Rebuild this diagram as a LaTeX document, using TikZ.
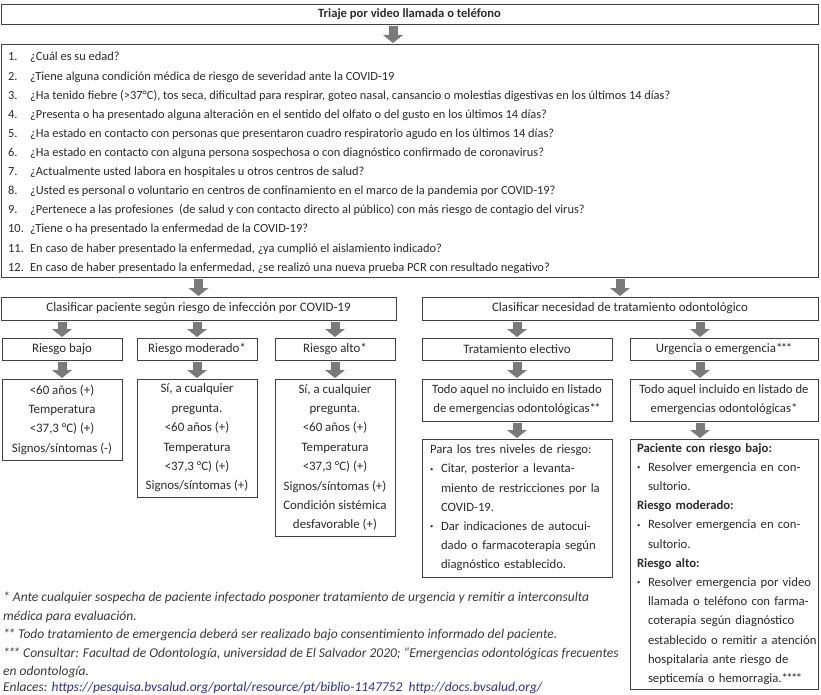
\documentclass[tikz,border=0pt]{standalone}
\usepackage{fontspec}
\setmainfont{Carlito}
\usetikzlibrary{arrows.meta,calc}
\definecolor{arrowgray}{HTML}{7A7A7A}
\definecolor{framegray}{HTML}{404040}
\definecolor{txt}{HTML}{2B2B2B}
\definecolor{notegray}{HTML}{3A3A3A}
\definecolor{linkblue}{HTML}{2E3192}
\newcommand{\fsQ}{\fontsize{12.4}{19.1}\selectfont}
\newcommand{\fsL}{\fontsize{12.9}{19.4}\selectfont}
\newcommand{\fsR}{\fontsize{12.7}{19.2}\selectfont}
\newcommand{\fsN}{\fontsize{13.5}{18.6}\selectfont}
\newcommand{\bul}{\makebox[11pt][l]{\raisebox{1.6pt}{\fontsize{6.5}{6.5}\selectfont •}}}
\newcommand{\ind}{\hspace*{11pt}}
\newcommand{\Lx}[1]{\mbox{#1}}
\newcommand{\twost}{*\kern-1.6pt*}
\newcommand{\threest}{*\kern-1.6pt*\kern-1.6pt*}
\newcommand{\fourst}{*\kern-1.6pt*\kern-1.6pt*\kern-1.6pt*}
\begin{document}
\begin{tikzpicture}[x=1pt,y=-1pt,
  box/.style={draw=framegray, line width=0.9pt, anchor=north west, inner sep=0pt, outer sep=0pt, text=txt, font=\fsL},
  flow/.style={draw=arrowgray, line width=9pt, -{Triangle[width=20pt,length=8pt,line width=0pt]}, shorten <=2pt, shorten >=1pt},
  qline/.style={anchor=base west, inner sep=0pt, text=txt, font=\fsQ},
  note/.style={anchor=base west, inner sep=0pt, text=notegray, font=\fsN\itshape}]
\useasboundingbox (0,0) rectangle (821,695);
\fill[white] (0,0) rectangle (821,695);

\node[box, minimum width=817pt, minimum height=20pt, font=\fontsize{12.6}{14}\selectfont\bfseries] (title) at (1,4) {Triaje por video llamada o teléfono};

\node[box, minimum width=817pt, minimum height=233pt] (qbox) at (1,44) {};
\foreach \t [count=\k] in {
  {¿Cuál es su edad?},
  {¿Tiene alguna condición médica de riesgo de severidad ante la COVID-19},
  {¿Ha tenido fiebre (>37°C), tos seca, dificultad para respirar, goteo nasal, cansancio o molestias digestivas en los últimos 14 días?},
  {¿Presenta o ha presentado alguna alteración en el sentido del olfato o del gusto en los últimos 14 días?},
  {¿Ha estado en contacto con personas que presentaron cuadro respiratorio agudo en los últimos 14 días?},
  {¿Ha estado en contacto con alguna persona sospechosa o con diagnóstico confirmado de coronavirus?},
  {¿Actualmente usted labora en hospitales u otros centros de salud?},
  {¿Usted es personal o voluntario en centros de confinamiento en el marco de la pandemia por COVID-19?},
  {¿Pertenece a las profesiones\ \ (de salud y con contacto directo al público) con más riesgo de contagio del virus?},
  {¿Tiene o ha presentado la enfermedad de la COVID-19?},
  {En caso de haber presentado la enfermedad, ¿ya cumplió el aislamiento indicado?},
  {En caso de haber presentado la enfermedad, ¿se realizó una nueva prueba PCR con resultado negativo?}}
  \node[qline] (q\k) at (8,{61+19.1*(\k-1)}) {\makebox[22pt][l]{\k.}\t};

% left branch
\node[box, minimum width=395pt, minimum height=23pt] (clL) at (1,297) {Clasificar paciente según riesgo de infección por COVID-19};
\node[box, minimum width=120pt, minimum height=22pt] (rb) at (2,338) {Riesgo bajo};
\node[box, minimum width=120pt, minimum height=22pt] (rm) at (137,338) {Riesgo moderado*};
\node[box, minimum width=120pt, minimum height=22pt] (ra) at (275,338) {Riesgo alto*};
\node[box, minimum width=120pt, minimum height=81pt, align=center] (cb) at (2,379) {<60 años (+)\\Temperatura\\<37,3 °C) (+)\\Signos/síntomas (-)};
\node[box, minimum width=120pt, minimum height=118pt, align=center] (cm) at (137,379) {Sí, a cualquier\\pregunta.\\<60 años (+)\\Temperatura\\<37,3 °C) (+)\\Signos/síntomas (+)};
\node[box, minimum width=120pt, minimum height=157pt, align=center] (ca) at (275,379) {Sí, a cualquier\\pregunta.\\<60 años (+)\\Temperatura\\<37,3 °C) (+)\\Signos/síntomas (+)\\Condición sistémica\\desfavorable (+)};

% right branch
\node[box, minimum width=396pt, minimum height=23pt] (clR) at (422,297) {Clasificar necesidad de tratamiento odontológico};
\node[box, minimum width=190pt, minimum height=22pt] (te) at (422,338) {Tratamiento electivo};
\node[box, minimum width=188pt, minimum height=22pt] (ue) at (630,338) {Urgencia o emergencia\threest};
\node[box, minimum width=190pt, minimum height=42pt, align=center, font=\fsR] (tn) at (422,379) {Todo aquel no incluido en listado\\de emergencias odontológicas\twost};
\node[box, minimum width=188pt, minimum height=42pt, align=center, font=\fsR] (ti) at (630,379) {Todo aquel incluido en listado de\\emergencias odontológicas*};
\node[box, minimum width=190pt, minimum height=138pt, inner xsep=8pt, text width=174pt, align=left, font=\fsR] (pb) at (422,439) {\Lx{Para los tres niveles de riesgo:}\\
\Lx{\bul Citar, posterior a levanta-}\\
\Lx{\ind miento de restricciones por la}\\
\Lx{\ind COVID-19.}\\
\Lx{\bul Dar indicaciones de autocui-}\\
\Lx{\ind dado o farmacoterapia según}\\
\Lx{\ind diagnóstico establecido.}};
\node[box, minimum width=188pt, minimum height=250pt, inner xsep=7pt, text width=174pt, align=left, font=\fsR] (ub) at (630,439) {\Lx{\textbf{Paciente con riesgo bajo:}}\\
\Lx{\bul Resolver emergencia en con-}\\
\Lx{\ind sultorio.}\\
\Lx{\textbf{Riesgo moderado:}}\\
\Lx{\bul Resolver emergencia en con-}\\
\Lx{\ind sultorio.}\\
\Lx{\textbf{Riesgo alto:}}\\
\Lx{\bul Resolver emergencia por video}\\
\Lx{\ind llamada o teléfono con farma-}\\
\Lx{\ind coterapia según diagnóstico}\\
\Lx{\ind establecido o remitir a atención}\\
\Lx{\ind hospitalaria ante riesgo de}\\
\Lx{\ind septicemía o hemorragia.\fourst}};

% arrows
\coordinate (ax) at (393,0);
\coordinate (rx) at (700,0);
\draw[flow] (title.south -| ax) -- (qbox.north -| ax);
\draw[flow] (qbox.south -| clL.north) -- (clL.north);
\draw[flow] (qbox.south -| clR.north) -- (clR.north);
\draw[flow] (clL.south -| rb.north) -- (rb.north);
\draw[flow] (clL.south -| rm.north) -- (rm.north);
\draw[flow] (clL.south -| ra.north) -- (ra.north);
\draw[flow] (rb.south) -- (cb.north);
\draw[flow] (rm.south) -- (cm.north);
\draw[flow] (ra.south) -- (ca.north);
\draw[flow] (clR.south -| te.north) -- (te.north);
\draw[flow] (clR.south -| rx) -- (ue.north -| rx);
\draw[flow] (te.south) -- (tn.north);
\draw[flow] (ue.south -| rx) -- (ti.north -| rx);
\draw[flow] (tn.south) -- (pb.north);
\draw[flow] (ti.south -| rx) -- (ub.north -| rx);

% footnotes
\node[note] (n1) at (3,601) {* Ante cualquier sospecha de paciente infectado posponer tratamiento de urgencia y remitir a interconsulta};
\node[note] (n2) at (3,620) {médica para evaluación.};
\node[note] (n3) at (3,638) {\twost\ Todo tratamiento de emergencia deberá ser realizado bajo consentimiento informado del paciente.};
\node[note] (n4) at (3,657) {\threest\ Consultar: Facultad de Odontología, universidad de El Salvador 2020; “Emergencias odontológicas frecuentes};
\node[note] (n5) at (3,675.5) {en odontología.};
\node[note] (n6) at (3,691.3) {Enlaces: \textcolor{linkblue}{https://pesquisa.bvsalud.org/portal/resource/pt/biblio-1147752\ \ http://docs.bvsalud.org/}};
\end{tikzpicture}
\end{document}
